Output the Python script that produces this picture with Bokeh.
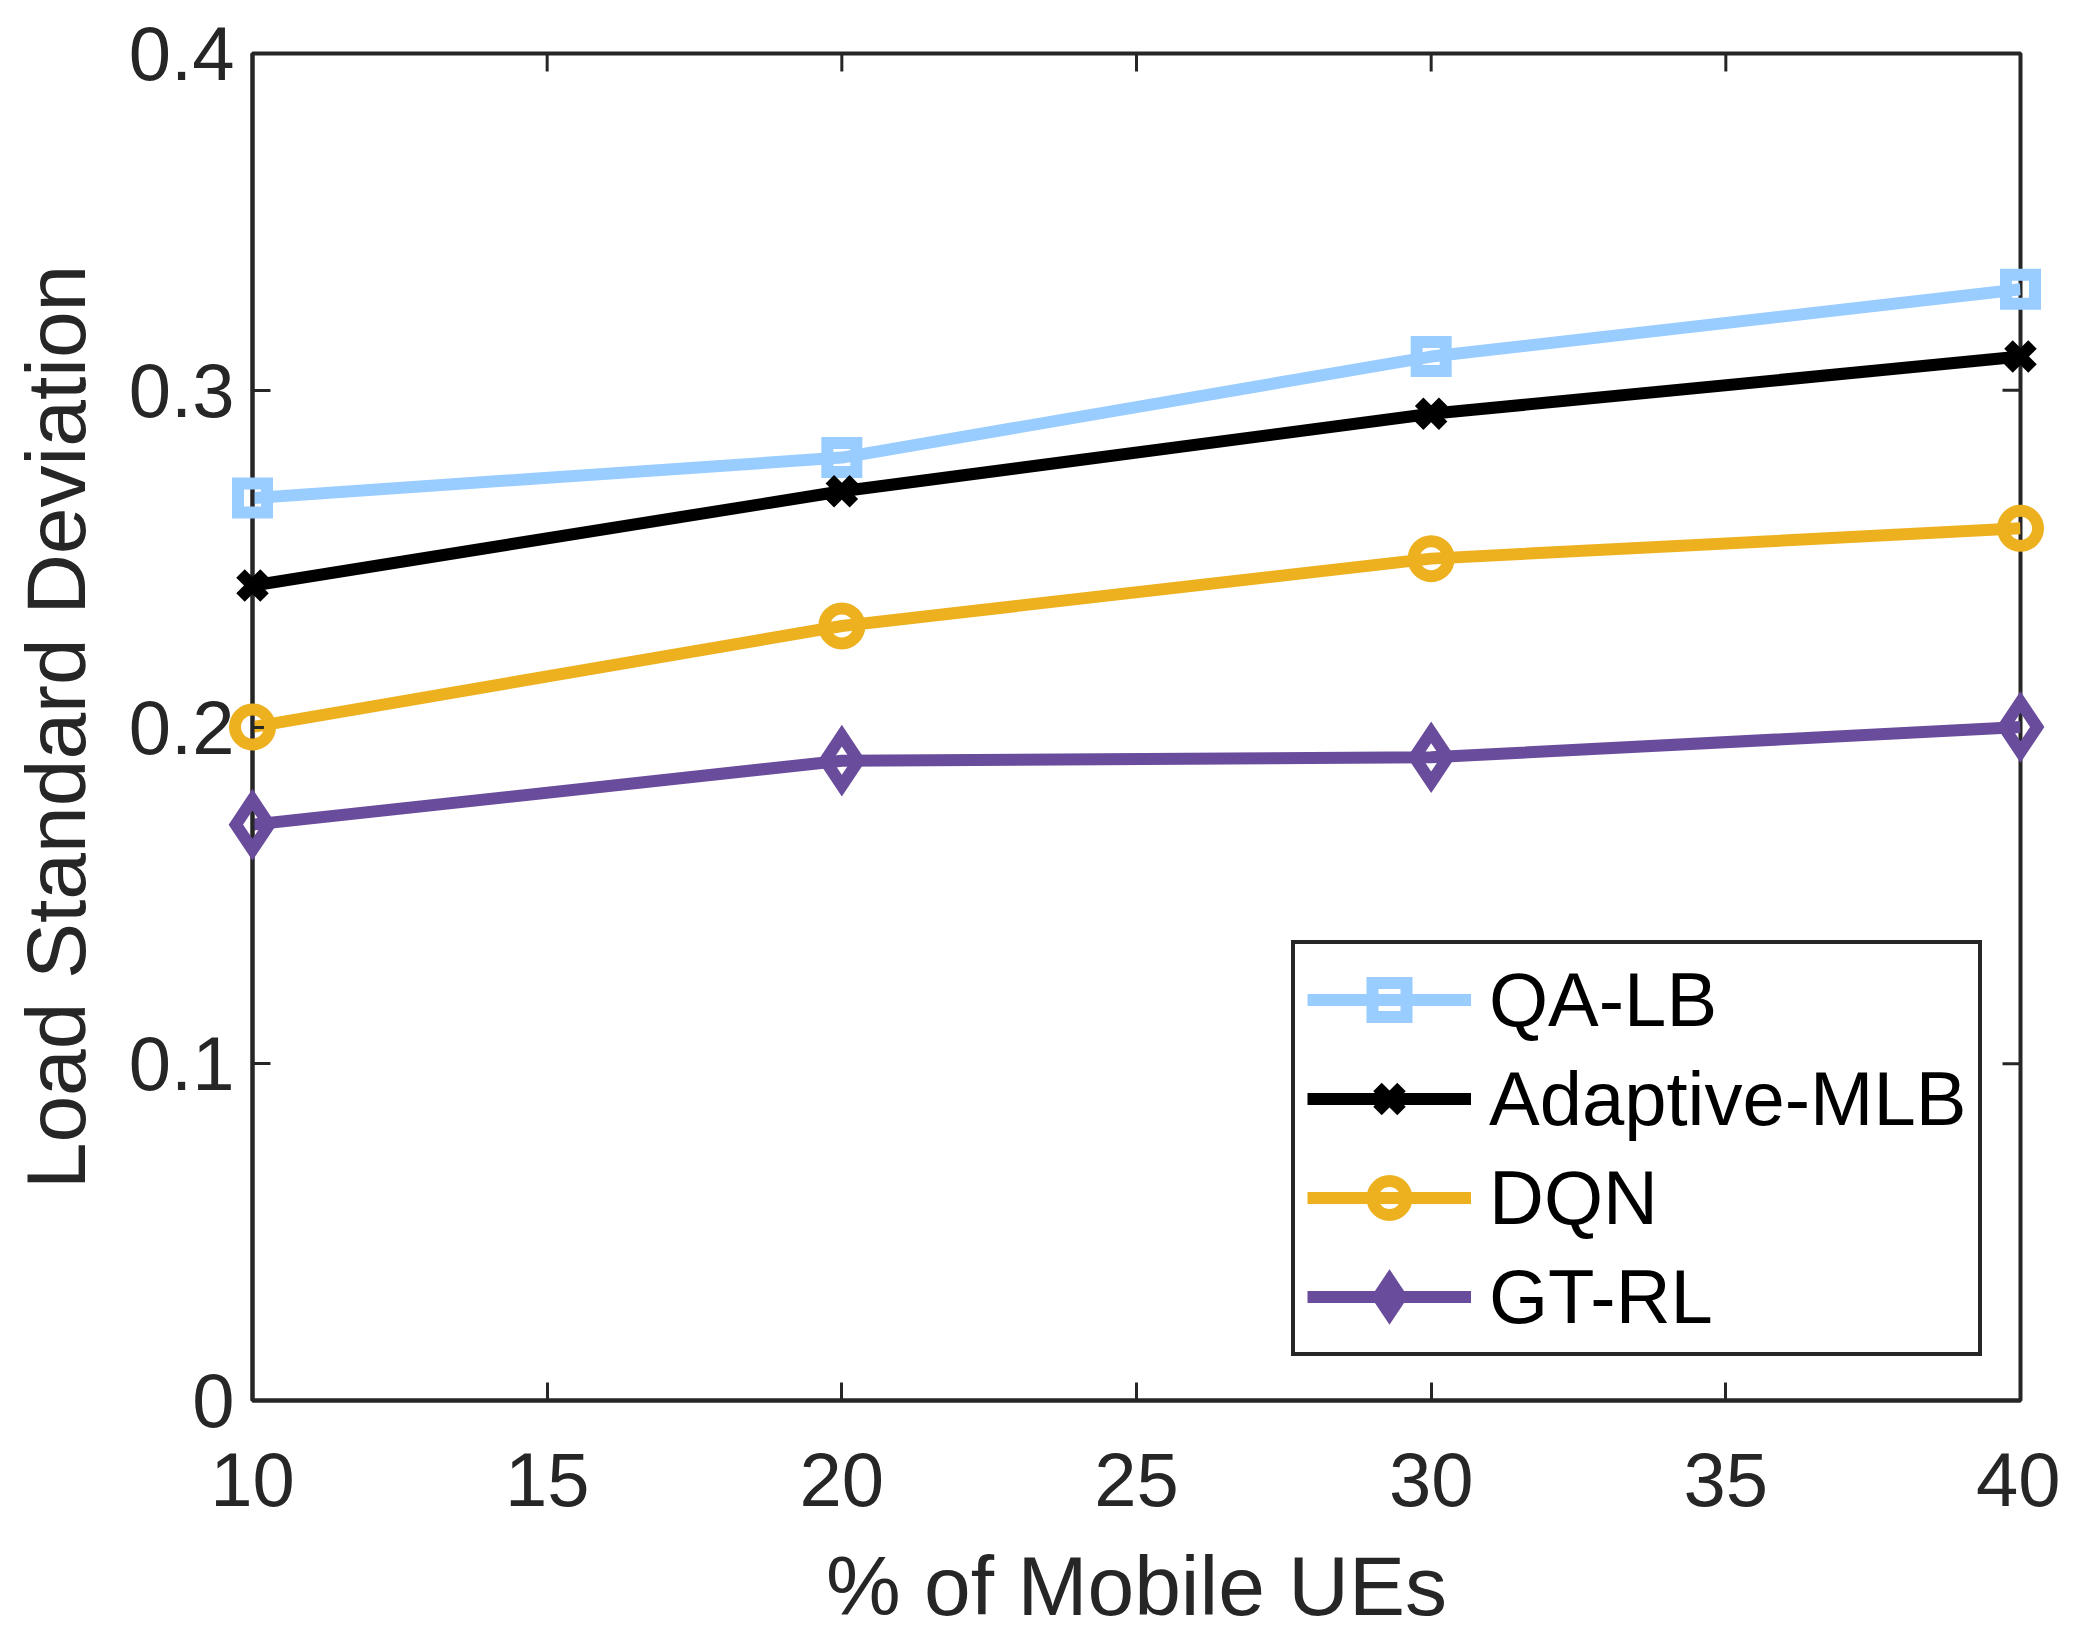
from math import pi

from bokeh.plotting import figure
from bokeh.models import Range1d, FixedTicker
from bokeh.embed import file_html
from bokeh.resources import INLINE

# data
x_vals = [10, 20, 30, 40]
qa_lb = [0.268, 0.280, 0.310, 0.330]
adaptive_mlb = [0.242, 0.270, 0.293, 0.310]
dqn = [0.200, 0.230, 0.250, 0.259]
gt_rl = [0.171, 0.190, 0.191, 0.200]

x_ticks = [10, 15, 20, 25, 30, 35, 40]
y_ticks = [0, 0.1, 0.2, 0.3, 0.4]
y_tick_labels = ["0", "0.1", "0.2", "0.3", "0.4"]

FONT = "Liberation Sans"
AX = "#262626"

p = figure(frame_width=1768, frame_height=1347,
           min_border_left=252, min_border_top=53, min_border_right=40, min_border_bottom=220,
           x_range=Range1d(x_ticks[0], x_ticks[-1]), y_range=Range1d(y_ticks[0], y_ticks[-1]),
           output_backend="svg", toolbar_location=None,
           x_axis_label="% of Mobile UEs", y_axis_label="Load Standard Deviation")
p.grid.visible = False
p.outline_line_color = AX
p.outline_line_width = 4
p.outline_line_alpha = 1
p.background_fill_color = "white"
p.border_fill_color = "white"

p.xaxis.ticker = FixedTicker(ticks=x_ticks)
p.yaxis.ticker = FixedTicker(ticks=y_ticks)
p.yaxis.major_label_overrides = dict(zip(y_ticks, y_tick_labels))

for ax in p.xaxis + p.yaxis:
    ax.axis_line_color = AX
    ax.axis_line_width = 4
    ax.major_tick_line_color = AX
    ax.major_tick_line_width = 3
    ax.major_tick_in = 18
    ax.major_tick_out = 0
    ax.minor_tick_line_color = None
    ax.major_label_text_font = FONT
    ax.major_label_text_font_size = "76px"
    ax.major_label_text_color = AX
    ax.axis_label_text_font = FONT
    ax.axis_label_text_font_size = "84px"
    ax.axis_label_text_font_style = "normal"
    ax.axis_label_text_color = AX

p.xaxis.major_label_standoff = 52
p.xaxis.axis_label_standoff = 30
p.yaxis.major_label_standoff = 18
p.yaxis.axis_label_standoff = 23

# inward ticks on the top and right edges of the box (half clipped by the frame)
p.scatter(x_ticks, [y_ticks[-1]] * len(x_ticks), marker="dash", angle=pi / 2, size=36,
          line_color=AX, line_width=3)
p.scatter([x_ticks[-1]] * len(y_ticks), y_ticks, marker="dash", size=36,
          line_color=AX, line_width=3)

LW = 12
series = [
    ("QA-LB", qa_lb, "#99CCFF", "square", 29),
    ("Adaptive-MLB", adaptive_mlb, "#000000", "x", 34),
    ("DQN", dqn, "#EDB120", "circle", 35),
    ("GT-RL", gt_rl, "#6A4C9C", "diamond", 50),
]
for name, ys, color, marker, size in series:
    p.line(x_vals, ys, line_color=color, line_width=LW, legend_label=name)
    p.scatter(x_vals, ys, marker=marker, size=size, line_color=color, line_width=LW,
              fill_alpha=0, line_join="miter", legend_label=name, level="overlay")

lg = p.legend[0]
lg.location = (1039, 44)
lg.margin = 0
lg.padding = 12
lg.spacing = 12
lg.glyph_width = 164
lg.glyph_height = 85
lg.label_height = 85
lg.label_standoff = 18
lg.label_text_font = FONT
lg.label_text_font_size = "76px"
lg.label_text_color = "black"
lg.border_line_color = AX
lg.border_line_width = 4
lg.border_line_alpha = 1
lg.background_fill_color = "white"
lg.background_fill_alpha = 1

open("out.html", "w").write(file_html(p, INLINE))
